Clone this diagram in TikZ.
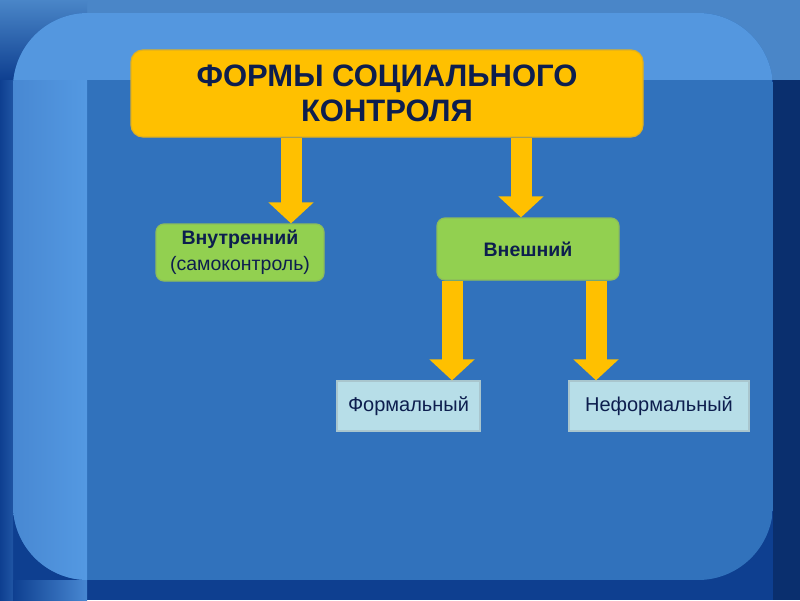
\documentclass[tikz,border=0pt]{standalone}
\usepackage{fontspec}
\setmainfont{Liberation Sans}
\usetikzlibrary{arrows.meta}

\definecolor{bgdark}{HTML}{0E3F90}
\definecolor{bgnavy}{HTML}{0A2F6E}
\definecolor{bgband}{HTML}{4A86C8}
\definecolor{panelmain}{HTML}{3172BC}
\definecolor{paneltop}{HTML}{5497DF}
\definecolor{stripeL}{HTML}{4888D2}
\definecolor{stripeR}{HTML}{5499E2}
\definecolor{txtnavy}{HTML}{0D1E4E}
\definecolor{boxyellow}{HTML}{FFC000}
\definecolor{boxgreen}{HTML}{92D050}
\definecolor{boxlight}{HTML}{B7DEE8}

\begin{document}
\begin{tikzpicture}[x=1pt, y=-1pt,
  main/.style = {draw=#1!75!gray, line width=1.2pt, text=txtnavy, align=center, inner sep=0pt},
  head/.style = {main=boxyellow, fill=boxyellow, rounded corners=12pt, font=\fontsize{31}{35}\selectfont\bfseries},
  kind/.style = {main=boxgreen, fill=boxgreen, rounded corners=8pt, font=\fontsize{19.5}{26}\selectfont},
  leaf/.style = {main=boxlight, fill=boxlight, font=\fontsize{20}{24}\selectfont},
  fat/.style = {draw=boxyellow, line width=21pt, -{Triangle[width=44pt, length=21pt]}}]
  \useasboundingbox (0,0) rectangle (800,600);
  % background
  \fill[bgdark] (0,0) rectangle (800,600);
  \fill[bgband] (0,0) rectangle (800,80);
  \fill[bgnavy] (773,80) rectangle (800,600);
  \shade[top color=bgband, bottom color=bgdark] (0,0) rectangle (87,80);
  \shade[left color=bgdark, right color=bgdark!70!stripeL] (0,80) rectangle (13,600);
  \shade[left color=bgdark, right color=stripeL] (13,580) rectangle (87,600);
  \begin{scope}
    \clip[rounded corners=75pt] (13,13) rectangle (773,580);
    \fill[panelmain] (13,13) rectangle (773,580);
    \fill[paneltop] (13,13) rectangle (773,80);
    \shade[left color=stripeL, right color=stripeR] (13,80) rectangle (87,580);
  \end{scope}

  % nodes
  \node[head, minimum width=512pt, minimum height=87pt] (1) at (387,93.5) {ФОРМЫ СОЦИАЛЬНОГО\\КОНТРОЛЯ};
  \node[kind, minimum width=168pt, minimum height=57pt] (2) at (240,252.5) {\textbf{Внутренний}\\(самоконтроль)};
  \node[kind, minimum width=182pt, minimum height=62pt] (3) at (528,249) {\textbf{Внешний}};
  \node[leaf, minimum width=143pt, minimum height=50pt] (4) at (408.5,406) {Формальный};
  \node[leaf, minimum width=180pt, minimum height=50pt] (5) at (659,406) {Неформальный};

  % arrows
  \coordinate (a) at (291,0);
  \coordinate (b) at (521,0);
  \coordinate (c) at (452,0);
  \coordinate (d) at (596,0);
  \draw[fat] (1.south -| a) -- (2.north -| a);
  \draw[fat] (1.south -| b) -- (3.north -| b);
  \draw[fat] (3.south -| c) -- (4.north -| c);
  \draw[fat] (3.south -| d) -- (5.north -| d);
\end{tikzpicture}
\end{document}
